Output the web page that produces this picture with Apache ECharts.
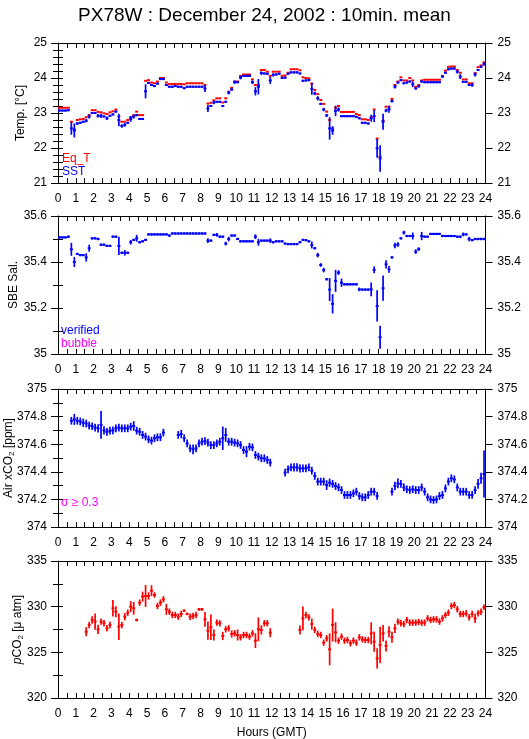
<!DOCTYPE html>
<html><head><meta charset="utf-8">
<script src="https://cdn.jsdelivr.net/npm/echarts@6/dist/echarts.min.js"></script>
<style>html,body{margin:0;padding:0;background:#fff}#c{width:529px;height:739px}</style>
</head><body><div id="c"></div>
<script>
// 10-minute slots, 144 per day; each value is the slot mean
const SLOTS = 144;
const hours = Array.from({length: SLOTS}, (_, i) => (i + 0.5) / 6);
const hourTicks = ['0','1','2','3','4','5','6','7','8','9','10','11','12','13','14','15','16','17','18','19','20','21','22','23','24'];

const sst = [
 23.07,23.07,23.07,23.08,22.56,22.50, 22.70,22.72,22.75,22.78,22.90,23.00,
 23.00,22.92,22.92,22.90,22.85,22.92, 22.96,23.04,22.80,22.63,22.66,22.72,
 22.83,22.90,22.94,22.83,22.83,23.62, 23.86,23.80,23.77,23.84,23.97,23.97,
 23.80,23.75,23.75,23.77,23.75,23.75, 23.71,23.75,23.75,23.75,23.75,23.75,
 23.75,23.70,23.13,23.20,23.30,23.32, 23.32,23.20,23.32,23.58,23.67,23.88,
 23.88,24.01,24.06,24.06,24.06,23.88, 23.62,23.75,24.14,24.13,24.12,23.93,
 24.09,24.10,24.12,24.00,24.01,24.12, 24.16,24.16,24.16,24.13,23.92,23.93,
 23.94,23.69,23.56,23.42,23.26,23.10, 22.93,22.56,22.50,23.06,23.10,22.91,
 22.91,22.91,22.91,22.91,22.89,22.85, 22.72,22.72,22.70,22.85,22.91,21.99,
 21.70,22.75,23.07,23.11,23.34,23.75, 23.87,23.94,23.85,23.87,23.90,23.82,
 23.70,23.76,23.90,23.88,23.88,23.88, 23.88,23.88,23.88,24.04,24.15,24.25,
 24.27,24.27,24.18,24.04,23.89,23.89, 23.80,23.80,24.10,24.23,24.32,24.40];
const sstErr = [
 .03,.03,.03,.03,.18,.20, .04,.03,.03,.05,.06,.03,
 .03,.05,.06,.03,.05,.03, .03,.03,.18,.05,.05,.03,
 .08,.06,.03,.03,.03,.20, .03,.03,.03,.03,.03,.03,
 .03,.03,.03,.03,.03,.03, .03,.03,.03,.03,.03,.03,
 .03,.10,.10,.03,.05,.03, .03,.03,.03,.05,.03,.05,
 .03,.05,.03,.03,.03,.05, .12,.22,.05,.03,.03,.10,
 .05,.03,.03,.03,.03,.03, .03,.03,.03,.03,.03,.03,
 .03,.17,.05,.06,.03,.05, .04,.32,.12,.15,.06,.03,
 .03,.03,.03,.03,.03,.03, .03,.03,.03,.10,.17,.27,
 .38,.23,.05,.10,.04,.05, .03,.03,.03,.03,.03,.08,
 .03,.03,.03,.03,.03,.03, .03,.03,.03,.03,.03,.03,
 .03,.03,.05,.07,.03,.03, .03,.05,.06,.03,.03,.05];
const eqT = [
 23.15,23.15,23.15,23.15,22.75,22.53, 22.80,22.82,22.83,22.88,22.94,23.08,
 23.08,23.03,23.02,22.99,22.97,23.02, 23.05,23.10,22.90,22.75,22.75,22.80,
 22.88,22.93,23.04,22.94,22.94,23.92, 23.94,23.87,23.85,23.90,24.00,24.00,
 23.87,23.83,23.83,23.83,23.83,23.83, 23.82,23.85,23.85,23.85,23.85,23.85,
 23.85,23.80,23.27,23.29,23.36,23.42, 23.42,23.30,23.42,23.61,23.72,23.90,
 23.90,24.06,24.10,24.10,24.10,23.96, 23.80,23.80,24.23,24.23,24.18,24.06,
 24.18,24.18,24.18,24.06,24.07,24.15, 24.25,24.25,24.25,24.22,24.02,24.00,
 23.99,23.84,23.66,23.54,23.37,23.26, 23.04,22.80,22.56,23.15,23.20,23.03,
 23.03,23.03,23.03,23.03,22.97,22.94, 22.82,22.82,22.80,22.88,23.10,22.27,
 21.75,22.78,23.18,23.18,23.40,23.80, 23.90,24.02,23.93,23.93,24.00,23.93,
 23.75,23.80,23.93,23.95,23.95,23.95, 23.95,23.95,23.95,24.06,24.21,24.32,
 24.33,24.33,24.23,24.15,23.96,23.96, 23.85,23.85,24.14,24.31,24.36,24.45];

const sal = [
 35.507,35.507,35.507,35.510,35.455,35.400, 35.435,35.430,35.430,35.420,35.460,35.503,
 35.503,35.500,35.475,35.475,35.470,35.470, 35.510,35.510,35.470,35.440,35.440,35.440,
 35.486,35.496,35.503,35.486,35.490,35.496, 35.520,35.520,35.520,35.520,35.520,35.520,
 35.520,35.515,35.524,35.524,35.524,35.524, 35.524,35.524,35.524,35.524,35.524,35.524,
 35.524,35.524,35.493,35.493,35.518,35.518, 35.510,35.510,35.480,35.500,35.515,35.515,
 35.500,35.490,35.490,35.490,35.490,35.490, 35.510,35.486,35.493,35.493,35.493,35.493,
 35.486,35.490,35.490,35.490,35.480,35.478, 35.478,35.478,35.478,35.486,35.496,35.495,
 35.490,35.474,35.460,35.430,35.387,35.365, 35.325,35.280,35.218,35.318,35.354,35.310,
 35.303,35.303,35.303,35.303,35.303,35.281, 35.280,35.280,35.280,35.281,35.366,35.209,
 35.073,35.286,35.390,35.368,35.420,35.472, 35.476,35.503,35.528,35.513,35.513,35.513,
 35.445,35.456,35.513,35.510,35.510,35.522, 35.522,35.522,35.522,35.513,35.513,35.513,
 35.513,35.513,35.510,35.510,35.520,35.520, 35.500,35.495,35.500,35.500,35.500,35.500];
const salErr = [
 .005,.005,.005,.005,.028,.022, .005,.005,.005,.018,.015,.005,
 .005,.005,.005,.005,.005,.005, .005,.005,.040,.005,.012,.005,
 .010,.005,.015,.005,.005,.005, .005,.005,.005,.005,.005,.005,
 .005,.005,.005,.005,.005,.005, .005,.005,.005,.005,.005,.005,
 .005,.005,.010,.005,.005,.008, .005,.005,.008,.010,.005,.005,
 .005,.005,.005,.005,.005,.005, .010,.015,.005,.005,.005,.010,
 .005,.005,.005,.005,.005,.005, .005,.005,.005,.005,.005,.005,
 .005,.015,.005,.010,.008,.010, .005,.050,.042,.048,.010,.018,
 .005,.005,.005,.005,.005,.008, .005,.005,.005,.030,.015,.068,
 .050,.055,.018,.015,.005,.012, .010,.005,.008,.005,.005,.015,
 .010,.008,.018,.005,.005,.005, .005,.005,.005,.005,.005,.005,
 .005,.005,.005,.005,.008,.005, .010,.005,.005,.005,.005,.005];

const airCO2 = [
 null,null,null,null,374.770,374.780, 374.770,374.765,374.755,374.750,374.735,374.730,
 374.720,374.715,374.740,374.700,374.690,374.698, 374.700,374.715,374.720,374.715,374.715,374.715,
 374.727,374.732,374.698,374.690,374.667,374.655, 374.635,374.626,374.643,374.650,374.650,374.684,
 null,null,null,null,374.667,374.674, 374.643,374.606,374.570,374.563,374.570,374.606,
 374.618,374.623,374.611,374.594,374.594,374.606, 374.618,374.643,374.667,374.618,374.618,374.611,
 374.606,374.594,374.558,374.546,374.582,374.577, 374.522,374.510,374.498,374.498,374.486,374.467,
 null,null,null,null,374.394,374.418, 374.432,374.432,374.432,374.425,374.425,374.425,
 374.432,374.408,374.370,374.329,374.329,374.329, 374.304,374.321,374.312,374.297,374.287,374.268,
 374.232,374.232,374.232,374.244,374.256,374.225, 374.215,374.215,374.232,374.256,374.256,374.225,
 null,null,null,null,374.256,374.297, 374.316,374.312,374.287,374.273,374.268,374.273,
 374.268,374.268,374.287,374.256,374.215,374.200, 374.196,374.200,374.225,374.232,374.280,374.329,
 374.353,374.345,374.287,374.256,374.256,374.256, 374.232,374.232,374.268,374.312,374.353,374.384];
const airErr = [
 0,0,0,0,.028,.040, .028,.028,.030,.028,.028,.028,
 .028,.030,.100,.030,.028,.028, .028,.028,.028,.028,.028,.028,
 .028,.035,.028,.028,.028,.028, .028,.028,.028,.028,.028,.028,
 0,0,0,0,.028,.030, .028,.028,.028,.035,.028,.028,
 .028,.028,.028,.028,.028,.028, .028,.085,.050,.028,.028,.028,
 .028,.028,.028,.040,.028,.028, .028,.028,.028,.028,.028,.028,
 0,0,0,0,.028,.028, .028,.030,.030,.030,.028,.028,
 .028,.028,.028,.028,.028,.028, .035,.030,.028,.028,.028,.028,
 .028,.028,.028,.028,.028,.028, .028,.028,.028,.028,.028,.028,
 0,0,0,0,.028,.030, .035,.028,.028,.028,.028,.028,
 .028,.028,.028,.028,.028,.028, .028,.028,.028,.028,.028,.028,
 .028,.028,.028,.028,.028,.028, .028,.028,.028,.035,.040,.170];

const pCO2 = [
 null,null,null,null,null,null, null,null,null,327.26,327.99,328.54,
 328.36,327.52,328.36,328.18,327.63,327.99, 329.82,329.45,327.81,327.99,328.90,329.34,
 330.00,329.82,328.54,330.44,331.10,331.17, 331.17,331.75,331.28,330.07,330.44,330.80,
 329.71,329.45,329.09,329.09,328.90,329.20, 329.56,329.20,328.90,328.98,329.09,329.71,
 329.71,328.61,327.37,327.74,326.90,328.25, 328.18,326.79,327.52,327.63,327.01,327.08,
 326.90,326.64,326.90,326.90,326.72,327.08, 326.28,327.52,327.45,328.18,328.18,327.15,
 null,null,null,null,null,null, null,null,null,327.45,328.72,329.09,
 328.83,328.10,327.45,327.01,326.90,326.06, 326.53,325.33,327.99,327.19,326.28,326.72,
 326.28,326.35,325.99,326.28,326.06,326.64, 326.42,326.35,326.35,327.08,326.17,324.34,
 325.80,327.08,325.69,327.26,326.64,327.63, 328.36,328.18,328.10,328.54,328.25,328.25,
 328.25,328.32,328.25,328.25,328.72,328.54, 328.61,328.61,328.36,328.72,329.09,329.34,
 330.07,330.18,329.71,329.20,329.20,329.27, 328.83,329.20,328.72,329.27,329.45,329.93];
const pErr = [
 0,0,0,0,0,0, 0,0,0,.50,.35,.40,
 .90,.50,.35,.35,.35,.35, .90,.60,1.45,.35,.40,.35,
 .60,.70,.15,.35,.55,1.20, .40,.60,.30,.35,.35,.35,
 .60,.35,.35,.35,.35,.35, .15,.15,.35,.35,.35,.15,
 .15,.80,1.00,1.40,.60,.35, .35,.45,.35,.35,.40,.35,
 .60,.35,.35,.35,.35,.35, .80,1.30,.50,.35,.35,.50,
 0,0,0,0,0,0, 0,0,0,.50,1.30,.35,
 .35,.60,.35,.35,.35,.35, .35,1.75,1.80,1.10,.35,.35,
 .35,.35,.35,.35,.35,.35, .35,.35,.35,1.20,1.10,1.10,
 2.00,.90,.60,.60,.60,.50, .35,.35,.35,.35,.35,.35,
 .35,.35,.35,.35,.35,.35, .35,.35,.35,.35,.35,.35,
 .35,.35,.35,.35,.35,.35, .35,.35,.50,.35,.35,.30];

const FONT = '"Liberation Sans", Arial, Helvetica, sans-serif';
const BLUE = '#0000ff', RED = '#ff0000', MAGENTA = '#ff00ff';

const panels = [
  {top: 43, height: 140, min: 21, max: 25, major: 1, minor: 0.2,
   name: 'Temp. [°C]', nameX: 21,
   series: [{v: eqT, e: null, color: RED}, {v: sst, e: sstErr, color: BLUE}]},
  {top: 216, height: 138, min: 35, max: 35.6, major: 0.2, minor: 0.1,
   name: 'SBE Sal.', nameX: 14,
   series: [{v: sal, e: salErr, color: BLUE}]},
  {top: 389, height: 138, min: 374, max: 375, major: 0.2, minor: 0.1,
   name: '{n|Air xCO}{s|2}{n| [ppm]}', nameX: 9,
   series: [{v: airCO2, e: airErr, color: BLUE}]},
  {top: 561, height: 137, min: 320, max: 335, major: 5, minor: 2.5,
   name: '{i|p}{n|CO}{s|2}{n| [μ atm]}', nameX: 18,
   series: [{v: pCO2, e: pErr, color: RED}]}
];

const black = {color: '#000', width: 1};
const grid = [], xAxis = [], yAxis = [], series = [];
const graphics = [];
const nameRich = {
  n: {fontSize: 12, fontFamily: FONT, fill: '#000', lineHeight: 14},
  i: {fontSize: 12, fontFamily: FONT, fill: '#000', fontStyle: 'italic', lineHeight: 14},
  s: {fontSize: 8, fontFamily: FONT, fill: '#000', verticalAlign: 'bottom', lineHeight: 8}
};

function makeRender(color) {
  return function (params, api) {
    const t = api.value(0), v = api.value(1), e = api.value(2);
    const half = 1 / 12;
    const a = api.coord([t - half, v]), b = api.coord([t + half, v]);
    const ch = [{type: 'line', shape: {x1: a[0], y1: a[1], x2: b[0], y2: b[1]},
                 style: {stroke: color, lineWidth: 2, lineCap: 'butt'}}];
    if (e > 0) {
      const p = api.coord([t, v - e]), q = api.coord([t, v + e]);
      ch.push({type: 'line', shape: {x1: p[0], y1: p[1], x2: q[0], y2: q[1]},
               style: {stroke: color, lineWidth: 1.7, lineCap: 'butt'}});
    }
    return {type: 'group', children: ch};
  };
}

panels.forEach((p, i) => {
  grid.push({left: 58, right: 43.5, top: p.top, height: p.height,
             containLabel: false, outerBoundsMode: 'none'});
  const xBase = {
    type: 'value', gridIndex: i, min: 0, max: 24, interval: 1,
    axisLine: {show: true, onZero: false, lineStyle: black},
    axisTick: {show: true, inside: true, length: 5, lineStyle: black},
    minorTick: {show: true, splitNumber: 2, length: 5, lineStyle: black},
    splitLine: {show: false}, minorSplitLine: {show: false}
  };
  xAxis.push(Object.assign({}, xBase, {
    position: 'bottom',
    axisLabel: {show: true, margin: 10, fontSize: 12, color: '#000', fontFamily: FONT,
                formatter: v => hourTicks[Math.round(v)]},
    name: i === 3 ? 'Hours (GMT)' : '', nameLocation: 'middle', nameGap: 29,
    nameTextStyle: {fontSize: 12, color: '#000', fontFamily: FONT}
  }));
  xAxis.push(Object.assign({}, xBase, {position: 'top', axisLabel: {show: false}}));

  ['left', 'right'].forEach(side => {
    yAxis.push({
      type: 'value', gridIndex: i, position: side, min: p.min, max: p.max, interval: p.major,
      axisLine: {show: true, onZero: false, lineStyle: black},
      axisTick: {show: true, inside: false, length: 7, lineStyle: black},
      axisLabel: {show: true, margin: side === 'left' ? 11 : 12, fontSize: 12, color: '#000', fontFamily: FONT},
      splitLine: {show: false}
    });
    yAxis.push({
      type: 'value', gridIndex: i, position: side, min: p.min, max: p.max, interval: p.minor,
      axisLine: {show: false},
      axisTick: {show: true, inside: true, length: 5, lineStyle: black},
      axisLabel: {show: false}, splitLine: {show: false}
    });
  });

  graphics.push({type: 'text', x: p.nameX, y: p.top + p.height / 2, rotation: Math.PI / 2,
    style: {text: p.name, rich: nameRich, fontSize: 12, fontFamily: FONT, fill: '#000',
            align: 'center', verticalAlign: 'middle'}});

  p.series.forEach((s, k) => {
    const data = [];
    hours.forEach((t, j) => {
      if (s.v[j] != null) data.push([t, s.v[j], s.e ? s.e[j] : 0]);
    });
    series.push({
      type: 'custom', xAxisIndex: 2 * i, yAxisIndex: 4 * i, data: data,
      encode: {x: 0, y: 1}, renderItem: makeRender(s.color), silent: true, z: 2 + k
    });
  });
});

const txt = (left, top, text, fill) => ({type: 'text', left: left, top: top,
  style: {text: text, fill: fill, fontSize: 12, fontFamily: FONT}});
graphics.push(
  txt(62, 153, 'Eq_T', RED),
  txt(62, 166, 'SST', BLUE),
  txt(61, 325, 'verified', BLUE),
  txt(61, 338, 'bubble', MAGENTA),
  txt(61, 497, 'σ ≥ 0.3', MAGENTA)
);

const chart = echarts.init(document.getElementById('c'), null, {renderer: 'canvas'});
chart.setOption({
  animation: false,
  backgroundColor: '#fff',
  title: {text: 'PX78W : December 24, 2002 : 10min. mean', left: 'center', top: 1,
          textStyle: {fontSize: 19, fontWeight: 'normal', color: '#000', fontFamily: FONT}},
  grid: grid, xAxis: xAxis, yAxis: yAxis, series: series,
  graphic: graphics
});
</script></body></html>
